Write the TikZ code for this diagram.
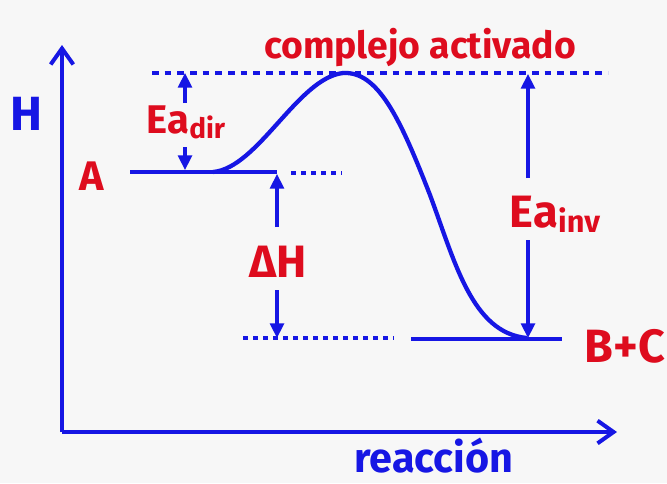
\documentclass[tikz,border=0pt]{standalone}
\usepackage{fontspec}
\setmainfont{Fira Sans}
\usetikzlibrary{arrows.meta}
\definecolor{hblue}{RGB}{22,22,228}
\definecolor{hred}{RGB}{222,12,30}
\definecolor{paper}{RGB}{247,247,247}
\tikzset{
  axisline/.style={draw=hblue,line width=3.2pt,-{Straight Barb[length=12pt,width=17pt,line width=3pt]}},
  level/.style={draw=hblue,line width=3pt},
  dashline/.style={draw=hblue,line width=2.8pt,dash pattern=on 5pt off 4.5pt},
  dotline/.style={draw=hblue,line width=2.6pt,dash pattern=on 4pt off 3.5pt},
  curveline/.style={draw=hblue,line width=3.2pt},
  measure/.style={draw=hblue,line width=2.3pt,-{Triangle[length=11pt,width=10.5pt]}},
  redlbl/.style={text=hred,font=\bfseries\fontsize{#1}{#1}\selectfont,inner sep=0pt},
  bluelbl/.style={text=hblue,font=\bfseries\fontsize{#1}{#1}\selectfont,inner sep=0pt}
}
\newcommand{\subtx}[2]{{\fontsize{#1}{#1}\selectfont\raisebox{-4pt}{#2}}}
\begin{document}
\begin{tikzpicture}[x=0.75pt,y=-0.75pt]
\fill[paper] (0,0) rectangle (667,483);
\path[use as bounding box] (0,0) rectangle (667,483);
% axes
\coordinate (O) at (62,432);
\coordinate (ytop) at (62,45);
\coordinate (xend) at (617,432);
\draw[axisline] (O) -- (ytop);
\draw[axisline] (O) -- (xend);
% levels
\coordinate (Al) at (130,172);
\coordinate (Ar) at (277,172);
\coordinate (Adot1) at (291,173);
\coordinate (Adot2) at (342,173);
\coordinate (Bl) at (411,339);
\coordinate (Br) at (562,339);
\coordinate (Bdot1) at (243,338);
\coordinate (Bdot2) at (394,338);
\coordinate (T1) at (152,73);
\coordinate (T2) at (608,73);
\draw[level] (Al) -- (Ar);
\draw[level] (Bl) -- (Br);
\draw[dotline] (Adot1) -- (Adot2);
\draw[dotline] (Bdot1) -- (Bdot2);
\draw[dashline] (T1) -- (T2);
% curve
\coordinate (c0) at (213,172);
\coordinate (peak) at (343,73);
\coordinate (c1) at (430,195);
\coordinate (c2) at (527,338);
\draw[curveline] (c0) .. controls (258,168) and (298,78) .. (peak)
  .. controls (378,71) and (400,118) .. (c1)
  .. controls (455,262) and (472,333) .. (c2);
% labels
\node[bluelbl=36pt,anchor=base] (H) at (26,130) {H};
\node[redlbl=31pt,anchor=base] (A) at (92,190) {A};
\node[redlbl=35pt,anchor=base] (BC) at (625,362) {B+C};
\node[redlbl=28pt,anchor=base] (CA) at (420,58) {complejo activado};
\node[bluelbl=31pt,anchor=base] (R) at (434,472) {reacción};
\node[redlbl=30pt,anchor=base] (Ed) at (186,133) {Ea\subtx{21pt}{dir}};
\node[redlbl=34pt,anchor=base] (Ei) at (555,227) {Ea\subtx{23pt}{inv}};
\node[redlbl=34pt,anchor=base] (DH) at (278,277) {ΔH};
% measurement arrows
\coordinate (d1s) at (185,103);
\coordinate (d1e) at (185,73);
\coordinate (d2s) at (185,147);
\coordinate (d2e) at (185,170);
\draw[measure] (d1s) -- (d1e);
\draw[measure] (d2s) -- (d2e);
\coordinate (h1s) at (277,227);
\coordinate (h1e) at (277,174);
\coordinate (h2s) at (277,290);
\coordinate (h2e) at (277,338);
\draw[measure] (h1s) -- (h1e);
\draw[measure] (h2s) -- (h2e);
\coordinate (i1s) at (528,178);
\coordinate (i1e) at (528,74);
\coordinate (i2s) at (528,240);
\coordinate (i2e) at (528,338);
\draw[measure] (i1s) -- (i1e);
\draw[measure] (i2s) -- (i2e);
\end{tikzpicture}
\end{document}
